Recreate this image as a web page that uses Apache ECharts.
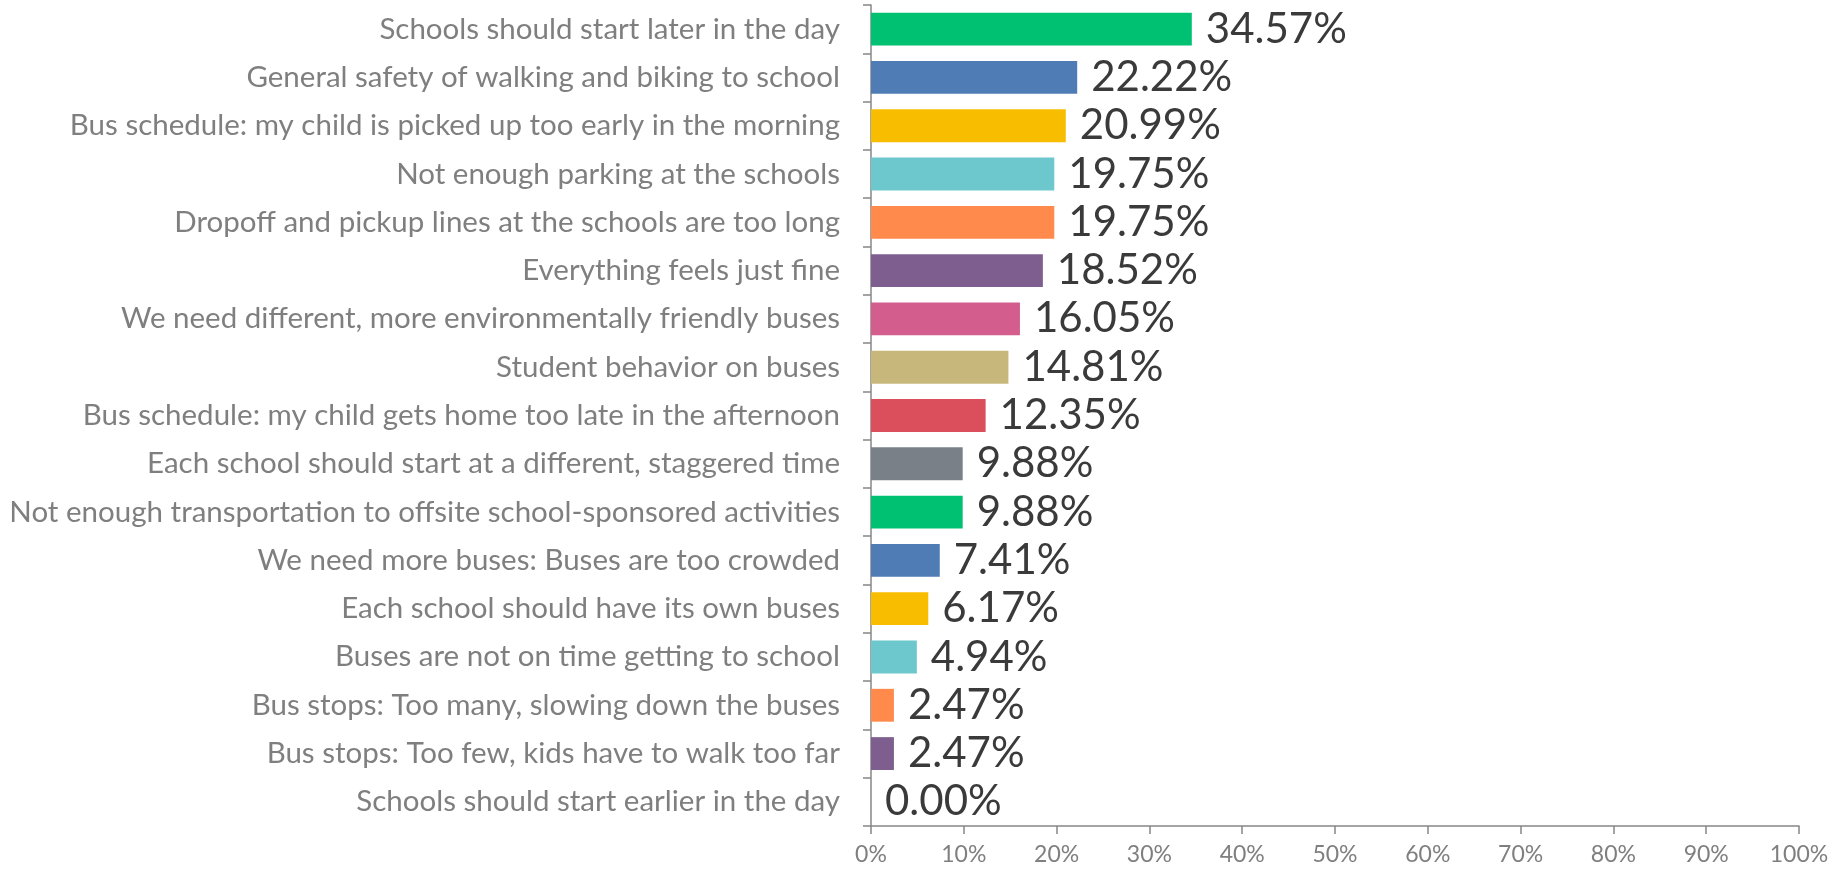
<!DOCTYPE html>
<html>
<head>
<meta charset="utf-8">
<script src="https://cdn.jsdelivr.net/npm/echarts@6/dist/echarts.min.js"></script>
<style>
  html, body { margin: 0; padding: 0; background: #fff; }
  #root { width: 1835px; height: 875px; }
</style>
</head>
<body>
<div id="root"></div>
<script>
// survey answers, top to bottom
const categories = [
  "Schools should start later in the day",
  "General safety of walking and biking to school",
  "Bus schedule: my child is picked up too early in the morning",
  "Not enough parking at the schools",
  "Dropoff and pickup lines at the schools are too long",
  "Everything feels just fine",
  "We need different, more environmentally friendly buses",
  "Student behavior on buses",
  "Bus schedule: my child gets home too late in the afternoon",
  "Each school should start at a different, staggered time",
  "Not enough transportation to offsite school-sponsored activities",
  "We need more buses: Buses are too crowded",
  "Each school should have its own buses",
  "Buses are not on time getting to school",
  "Bus stops: Too many, slowing down the buses",
  "Bus stops: Too few, kids have to walk too far",
  "Schools should start earlier in the day"
];
const percents = [34.57, 22.22, 20.99, 19.75, 19.75, 18.52, 16.05, 14.81, 12.35,
  9.88, 9.88, 7.41, 6.17, 4.94, 2.47, 2.47, 0.00];
const xTicks = [0, 10, 20, 30, 40, 50, 60, 70, 80, 90, 100];

const palette = ["#00c171", "#4f7cb5", "#f9bd00", "#6dc8cd", "#ff8a4c",
  "#7d5e8f", "#d35e8d", "#c8b77b", "#db4e5b", "#7a8088"];

const axisGrey = "#878787";
const labelGrey = "#7f7f7f";
const font = "Lato";

var myChart = echarts.init(document.getElementById("root"));
myChart.setOption({
  animation: false,
  grid: { left: 871, right: 36, top: 5, bottom: 49, outerBoundsMode: "none", containLabel: false },
  xAxis: {
    type: "value",
    min: xTicks[0],
    max: xTicks[xTicks.length - 1],
    interval: xTicks[1] - xTicks[0],
    splitLine: { show: false },
    axisLine: { show: true, lineStyle: { color: axisGrey, width: 1.5 } },
    axisTick: { show: true, length: 8, lineStyle: { color: axisGrey, width: 1.5 } },
    axisLabel: {
      formatter: "{value}%",
      color: labelGrey,
      fontFamily: font,
      fontSize: 23,
      margin: 17
    }
  },
  yAxis: {
    type: "category",
    inverse: true,
    data: categories,
    axisLine: { show: true, lineStyle: { color: axisGrey, width: 1.5 } },
    axisTick: { show: true, length: 8, lineStyle: { color: axisGrey, width: 1.5 } },
    axisLabel: {
      color: labelGrey,
      fontFamily: font,
      fontSize: 29.5,
      margin: 31
    }
  },
  series: [{
    type: "bar",
    data: percents.map((v, i) => ({
      value: v,
      itemStyle: { color: palette[i % palette.length] }
    })),
    barCategoryGap: "32%",
    label: {
      show: true,
      position: "right",
      distance: 14,
      color: "#3a3a3a",
      fontFamily: font,
      fontSize: 42,
      formatter: p => p.value.toFixed(2) + "%"
    }
  }]
});
</script>
</body>
</html>
